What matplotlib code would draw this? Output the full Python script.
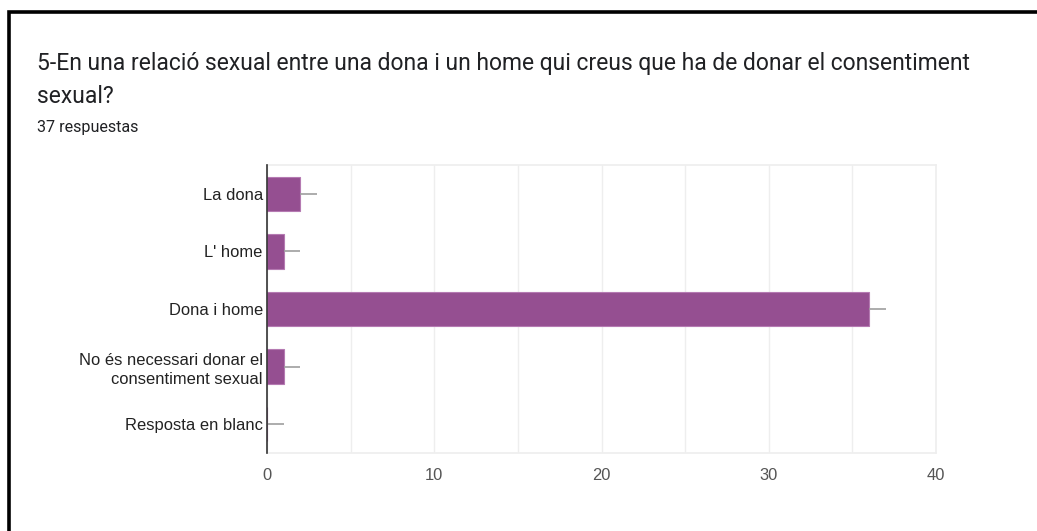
import matplotlib
matplotlib.use("Agg")
import matplotlib.pyplot as plt
from matplotlib.lines import Line2D

categories = ["La dona", "L' home", "Dona i home",
              "No és necessari donar el\nconsentiment sexual", "Resposta en blanc"]
counts = [2, 1, 36, 1, 0]
whisker = [1, 1, 1, 1, 1]
xticks = [0, 10, 20, 30, 40]
title_lines = ["5-En una relació sexual entre una dona i un home qui creus que ha de donar el consentiment",
               "sexual?"]
subtitle = "37 respuestas"

W, H = 1037, 531
fig = plt.figure(figsize=(W / 100, H / 100), dpi=100)
fig.patch.set_facecolor("white")

# frame (top and left black border)
fig.add_artist(Line2D([8.5 / W, 8.5 / W, 1.0], [0, 1 - 11.5 / H, 1 - 11.5 / H],
                      transform=fig.transFigure, color="black", lw=2.6,
                      solid_joinstyle="miter"))

for i, line in enumerate(title_lines):
    fig.text(37 / W, 1 - (70 + 33 * i) / H, line, fontsize=16.45, family="Roboto",
             color="#202124", va="baseline", ha="left")
fig.text(37 / W, 1 - 132 / H, subtitle, fontsize=11.6, family="Roboto",
         color="#202124", va="baseline", ha="left")

ax = fig.add_axes([267 / W, 1 - 453 / H, (936 - 267) / W, (453 - 165) / H])
y = list(range(len(categories)))
ax.barh(y, counts, height=0.6, color="#954f91", edgecolor="#b57ab2",
        linewidth=0.8, zorder=3)
ax.errorbar(counts, y, xerr=[[0] * len(counts), whisker], fmt="none",
            ecolor="#9e9e9e", elinewidth=1.2, capsize=0, zorder=4)

ax.set_xlim(0, 40)
ax.set_ylim(4.5, -0.5)
ax.set_xticks(xticks)
ax.set_xticks(range(0, 41, 5), minor=True)
ax.set_yticks(y)
ax.set_yticklabels(categories, fontsize=11.9, family="Liberation Sans",
                   color="#222222", linespacing=1.3)
for lab in ax.get_xticklabels():
    lab.set_fontsize(11.9)
    lab.set_family("Liberation Sans")
    lab.set_color("#555555")
ax.tick_params(axis="both", which="both", length=0)
ax.tick_params(axis="x", pad=11)
ax.tick_params(axis="y", pad=3)
ax.grid(axis="x", which="both", color="#eeeeee", lw=1, zorder=0)
for s in ["top", "right", "bottom"]:
    ax.spines[s].set_color("#eeeeee")
    ax.spines[s].set_linewidth(1.2)
ax.spines["left"].set_color("#333333")
ax.spines["left"].set_linewidth(1.2)
ax.spines["left"].set_zorder(5)

fig.savefig("out.png", dpi=100, facecolor="white")
